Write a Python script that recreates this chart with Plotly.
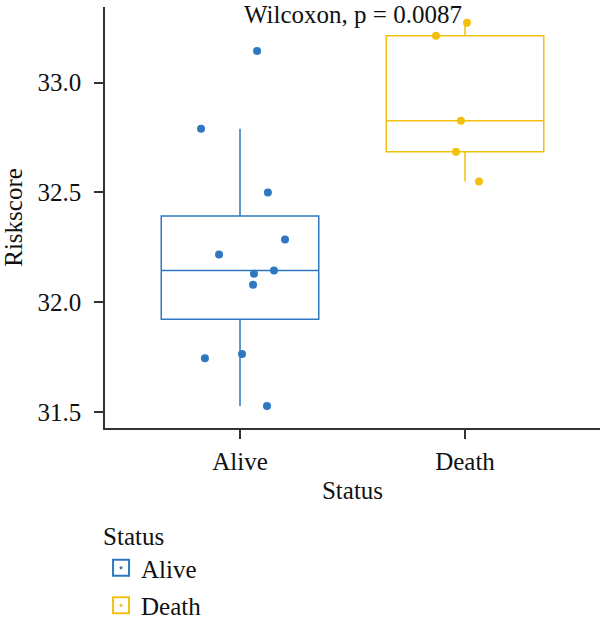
import plotly.graph_objects as go

categories = ["Alive", "Death"]
alive_scores = [33.145, 32.79, 32.50, 32.286, 32.218, 32.145, 32.13, 32.08, 31.764, 31.745, 31.527]
alive_jitter = [0.076, -0.173, 0.124, 0.200, -0.093, 0.151, 0.062, 0.058, 0.009, -0.156, 0.120]
death_scores = [33.273, 33.214, 32.827, 32.686, 32.55]
death_jitter = [0.009, -0.129, -0.018, -0.040, 0.062]
colors = ["#2E78C2", "#F2C00F"]
p_label = "Wilcoxon, p = 0.0087"

FONT = "Liberation Serif"
fs = 25

fig = go.Figure()
groups = [(alive_scores, alive_jitter), (death_scores, death_jitter)]
for i, (name, (vals, jit), col) in enumerate(zip(categories, groups, colors)):
    fig.add_trace(go.Box(
        x=[i] * len(vals), y=vals, name=name, width=0.7, whiskerwidth=0,
        quartilemethod="inclusive", boxpoints="outliers",
        marker=dict(color="rgba(0,0,0,0)", size=1),
        line=dict(color=col, width=1.5), fillcolor="rgba(255,255,255,0)",
        legendgroup=name, showlegend=False,
    ))
    fig.add_trace(go.Scatter(
        x=[i + j for j in jit], y=vals, mode="markers", name=name,
        marker=dict(color=col, size=8), legendgroup=name, showlegend=False,
    ))
    # legend-only entry (box-with-point key)
    fig.add_trace(go.Scatter(
        x=[None], y=[None], mode="markers", name=name, legendgroup=name, showlegend=True,
        marker=dict(color=col, size=16, symbol="square-open-dot", line=dict(width=2, color=col)),
    ))

fig.add_annotation(text=p_label, x=0.5, xref="x domain", y=33.31, yref="y",
                   showarrow=False, font=dict(family=FONT, size=fs, color="#111"),
                   xanchor="center", yanchor="middle")

axis_common = dict(showline=True, linecolor="#333", linewidth=1.5, ticks="outside",
                   ticklen=9, tickwidth=1.5, tickcolor="#333", showgrid=False, zeroline=False,
                   automargin=False,
                   tickfont=dict(family=FONT, size=fs, color="#111"))
fig.update_xaxes(range=[-0.6, 1.6], tickvals=[0, 1], ticktext=categories,
                 title=dict(text="Status", font=dict(family=FONT, size=fs, color="#111"), standoff=8),
                 ticklabelstandoff=1, **axis_common)
fig.update_yaxes(range=[31.427, 33.345], tickvals=[31.5, 32.0, 32.5, 33.0],
                 ticktext=["31.5", "32.0", "32.5", "33.0"],
                 title=dict(text="Riskscore", font=dict(family=FONT, size=fs, color="#111"), standoff=8),
                 ticklabelstandoff=8, **axis_common)

fig.update_layout(
    width=600, height=623, margin=dict(l=105, r=0, t=7, b=195, autoexpand=False),
    plot_bgcolor="white", paper_bgcolor="white",
    font=dict(family=FONT, size=fs, color="#111"),
    legend=dict(title=dict(text="Status", font=dict(family=FONT, size=fs)),
                x=-0.008, xanchor="left", y=-0.201, yanchor="top",
                font=dict(family=FONT, size=fs), tracegroupgap=2, itemwidth=30),
    showlegend=True,
)

fig.write_html("out.html")
